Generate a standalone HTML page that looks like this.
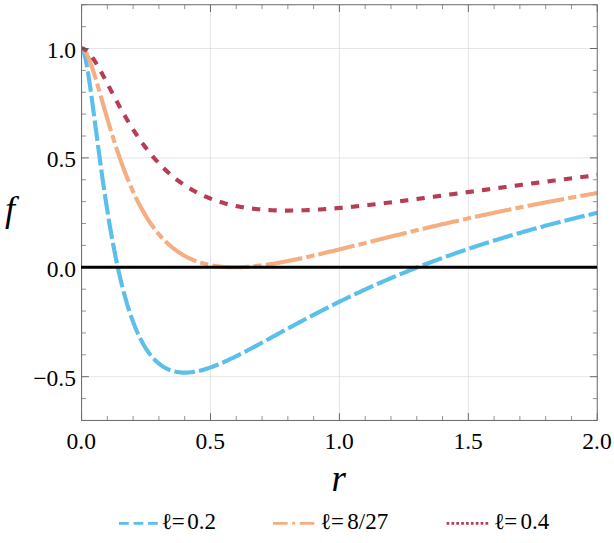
<!DOCTYPE html>
<html lang="en"><head><meta charset="utf-8"><title>f(r) for different values of l</title>
<style>
html,body{margin:0;padding:0;background:#fff;}
body{width:614px;height:543px;position:relative;overflow:hidden;font-family:"Liberation Serif",serif;color:#000;}
svg{display:block;}
</style></head><body>
<svg width="614" height="543" viewBox="0 0 614 543" style="position:absolute;left:0;top:0" role="img" aria-label="Plot of f versus r for l=0.2, l=8/27 and l=0.4">
<defs><clipPath id="c"><rect x="81.55" y="4.74" width="515.70" height="415.72"/></clipPath></defs>
<path d="M210.48,4.74V420.46M339.40,4.74V420.46M468.33,4.74V420.46M81.55,376.70H597.25M81.55,157.90H597.25M81.55,48.50H597.25" stroke="#dadada" stroke-width="0.7" fill="none"/>
<g clip-path="url(#c)" fill="none" stroke-width="4.13">
<path d="M81.55,48.50 L81.68,48.51 L81.81,48.55 L81.94,48.62 L82.07,48.71 L82.20,48.83 L82.33,48.98 L82.46,49.14 L82.59,49.33 L82.72,49.55 L82.85,49.78 L82.98,50.04 L83.10,50.32 L83.23,50.62 L83.36,50.94 L83.49,51.28 L83.62,51.64 L83.75,52.02 L83.88,52.42 L84.01,52.84 L84.14,53.27 L84.27,53.72 L84.40,54.19 L84.53,54.67 L84.66,55.17 L84.79,55.69 L84.92,56.22 L85.05,56.77 L85.18,57.33 L85.31,57.91 L85.44,58.50 L85.57,59.10 L85.70,59.72 L85.83,60.34 L85.96,60.99 L86.09,61.64 L86.21,62.31 L86.34,62.98 L86.47,63.67 L86.60,64.37 L86.73,65.08 L86.86,65.80 L86.99,66.53 L87.12,67.27 L87.25,68.02 L87.38,68.78 L87.51,69.55 L87.64,70.33 L87.77,71.12 L87.90,71.91 L88.03,72.71 L88.16,73.52 L88.29,74.34 L88.42,75.17 L88.55,76.00 L88.68,76.84 L88.81,77.68 L88.94,78.54 L89.07,79.40 L89.19,80.26 L89.32,81.13 L89.45,82.01 L89.58,82.89 L89.71,83.78 L89.84,84.67 L89.97,85.57 L90.10,86.47 L90.23,87.38 L90.36,88.29 L90.49,89.21 L90.62,90.13 L90.75,91.05 L90.88,91.98 L91.01,92.91 L91.14,93.85 L91.27,94.79 L91.40,95.73 L91.53,96.68 L91.66,97.62 L91.79,98.58 L91.92,99.53 L92.05,100.49 L92.17,101.45 L92.30,102.41 L92.43,103.37 L92.56,104.34 L92.69,105.31 L92.82,106.28 L92.95,107.25 L93.08,108.22 L93.21,109.20 L93.34,110.17 L93.47,111.15 L93.60,112.13 L93.73,113.11 L93.86,114.09 L93.99,115.07 L94.12,116.06 L94.25,117.04 L94.38,118.02 L94.51,119.01 L94.64,119.99 L94.77,120.98 L94.90,121.97 L95.03,122.95 L95.16,123.94 L95.28,124.93 L95.41,125.91 L95.54,126.90 L95.67,127.89 L95.80,128.88 L95.93,129.86 L96.06,130.85 L96.19,131.83 L96.32,132.82 L96.45,133.80 L96.58,134.79 L96.71,135.77 L96.84,136.76 L96.97,137.74 L97.10,138.72 L97.23,139.70 L97.36,140.68 L97.49,141.66 L97.62,142.64 L97.75,143.61 L97.88,144.59 L98.01,145.56 L98.14,146.54 L98.26,147.51 L98.39,148.48 L98.52,149.45 L98.65,150.42 L98.78,151.38 L98.91,152.35 L99.04,153.31 L99.17,154.28 L99.30,155.24 L99.43,156.19 L99.56,157.15 L99.69,158.11 L99.82,159.06 L99.95,160.01 L100.08,160.96 L100.21,161.91 L100.34,162.86 L100.47,163.80 L100.60,164.75 L100.73,165.69 L100.86,166.62 L100.99,167.56 L101.12,168.50 L101.25,169.43 L101.37,170.36 L101.50,171.29 L101.63,172.21 L101.76,173.14 L101.89,174.06 L102.02,174.98 L102.15,175.90 L102.28,176.81 L102.41,177.73 L102.54,178.64 L102.67,179.54 L102.80,180.45 L102.93,181.35 L103.06,182.25 L103.19,183.15 L103.32,184.05 L103.45,184.94 L103.58,185.84 L103.71,186.72 L103.84,187.61 L103.97,188.50 L104.10,189.38 L104.23,190.26 L104.35,191.13 L104.48,192.01 L104.61,192.88 L104.74,193.75 L104.87,194.61 L105.00,195.48 L105.13,196.34 L105.26,197.20 L105.39,198.05 L105.52,198.91 L105.65,199.76 L105.78,200.61 L105.91,201.45 L106.04,202.29 L106.17,203.13 L106.30,203.97 L106.43,204.81 L106.56,205.64 L106.69,206.47 L106.82,207.29 L106.95,208.12 L107.08,208.94 L107.21,209.76 L107.34,210.57 L108.32,216.67 L109.30,222.60 L110.28,228.38 L111.26,233.99 L112.24,239.45 L113.23,244.75 L114.21,249.90 L115.19,254.88 L116.17,259.72 L117.15,264.41 L118.13,268.95 L119.12,273.34 L120.10,277.60 L121.08,281.71 L122.06,285.68 L123.04,289.53 L124.03,293.24 L125.01,296.83 L125.99,300.29 L126.97,303.63 L127.95,306.85 L128.93,309.96 L129.92,312.96 L130.90,315.85 L131.88,318.63 L132.86,321.31 L133.84,323.89 L134.83,326.37 L135.81,328.76 L136.79,331.06 L137.77,333.27 L138.75,335.39 L139.73,337.43 L140.72,339.39 L141.70,341.26 L142.68,343.06 L143.66,344.79 L144.64,346.45 L145.62,348.03 L146.61,349.55 L147.59,351.00 L148.57,352.39 L149.55,353.71 L150.53,354.98 L151.52,356.18 L152.50,357.33 L153.48,358.43 L154.46,359.47 L155.44,360.46 L156.42,361.41 L157.41,362.30 L158.39,363.14 L159.37,363.95 L160.35,364.70 L161.33,365.42 L162.32,366.09 L163.30,366.72 L164.28,367.32 L165.26,367.87 L166.24,368.39 L167.22,368.88 L168.21,369.33 L169.19,369.75 L170.17,370.13 L171.15,370.48 L172.13,370.81 L173.12,371.10 L174.10,371.37 L175.08,371.61 L176.06,371.82 L177.04,372.00 L178.02,372.16 L179.01,372.30 L179.99,372.41 L180.97,372.50 L181.95,372.57 L182.93,372.62 L183.91,372.64 L184.90,372.65 L185.88,372.63 L186.86,372.60 L187.84,372.55 L188.82,372.48 L189.81,372.40 L190.79,372.29 L191.77,372.18 L192.75,372.04 L193.73,371.89 L194.71,371.73 L195.70,371.55 L196.68,371.36 L197.66,371.16 L198.64,370.94 L199.62,370.71 L200.61,370.47 L201.59,370.21 L202.57,369.95 L203.55,369.67 L204.53,369.39 L205.51,369.09 L206.50,368.79 L207.48,368.47 L208.46,368.14 L209.44,367.81 L210.42,367.47 L211.41,367.12 L212.39,366.76 L213.37,366.39 L214.35,366.02 L215.33,365.64 L216.31,365.25 L217.30,364.85 L218.28,364.45 L219.26,364.05 L220.24,363.63 L221.22,363.21 L222.20,362.79 L223.19,362.36 L224.17,361.92 L225.15,361.48 L226.13,361.03 L227.11,360.58 L228.10,360.13 L229.08,359.67 L230.06,359.20 L231.04,358.74 L232.02,358.26 L233.00,357.79 L233.99,357.31 L234.97,356.83 L235.95,356.34 L236.93,355.85 L237.91,355.36 L238.90,354.87 L239.88,354.37 L240.86,353.87 L241.84,353.37 L242.82,352.86 L243.80,352.35 L244.79,351.85 L245.77,351.33 L246.75,350.82 L247.73,350.30 L248.71,349.79 L249.70,349.27 L250.68,348.75 L251.66,348.23 L252.64,347.70 L253.62,347.18 L254.60,346.65 L255.59,346.13 L256.57,345.60 L257.55,345.07 L258.53,344.54 L259.51,344.01 L260.49,343.48 L261.48,342.94 L262.46,342.41 L263.44,341.88 L264.42,341.34 L265.40,340.81 L266.39,340.27 L267.37,339.74 L268.35,339.20 L269.33,338.66 L270.31,338.13 L271.29,337.59 L272.28,337.05 L273.26,336.52 L274.24,335.98 L275.22,335.44 L276.20,334.90 L277.19,334.37 L278.17,333.83 L279.15,333.29 L280.13,332.76 L281.11,332.22 L282.09,331.69 L283.08,331.15 L284.06,330.62 L285.04,330.08 L286.02,329.55 L287.00,329.01 L287.99,328.48 L288.97,327.95 L289.95,327.41 L290.93,326.88 L291.91,326.35 L292.89,325.82 L293.88,325.29 L294.86,324.76 L295.84,324.23 L296.82,323.71 L297.80,323.18 L298.78,322.65 L299.77,322.13 L300.75,321.60 L301.73,321.08 L302.71,320.56 L303.69,320.03 L304.68,319.51 L305.66,318.99 L306.64,318.47 L307.62,317.95 L308.60,317.44 L309.58,316.92 L310.57,316.40 L311.55,315.89 L312.53,315.37 L313.51,314.86 L314.49,314.35 L315.48,313.84 L316.46,313.33 L317.44,312.82 L318.42,312.31 L319.40,311.81 L320.38,311.30 L321.37,310.80 L322.35,310.29 L323.33,309.79 L324.31,309.29 L325.29,308.79 L326.27,308.29 L327.26,307.80 L328.24,307.30 L329.22,306.80 L330.20,306.31 L331.18,305.82 L332.17,305.33 L333.15,304.84 L334.13,304.35 L335.11,303.86 L336.09,303.37 L337.07,302.89 L338.06,302.40 L339.04,301.92 L340.02,301.44 L341.00,300.96 L341.98,300.48 L342.97,300.00 L343.95,299.52 L344.93,299.05 L345.91,298.57 L346.89,298.10 L347.87,297.63 L348.86,297.15 L349.84,296.68 L350.82,296.22 L351.80,295.75 L352.78,295.28 L353.77,294.82 L354.75,294.36 L355.73,293.89 L356.71,293.43 L357.69,292.97 L358.67,292.52 L359.66,292.06 L360.64,291.60 L361.62,291.15 L362.60,290.70 L363.58,290.24 L364.56,289.79 L365.55,289.34 L366.53,288.90 L367.51,288.45 L368.49,288.00 L369.47,287.56 L370.46,287.12 L371.44,286.67 L372.42,286.23 L373.40,285.79 L374.38,285.36 L375.36,284.92 L376.35,284.48 L377.33,284.05 L378.31,283.62 L379.29,283.18 L380.27,282.75 L381.26,282.32 L382.24,281.90 L383.22,281.47 L384.20,281.04 L385.18,280.62 L386.16,280.20 L387.15,279.78 L388.13,279.35 L389.11,278.94 L390.09,278.52 L391.07,278.10 L392.06,277.68 L393.04,277.27 L394.02,276.86 L395.00,276.45 L395.98,276.03 L396.96,275.62 L397.95,275.22 L398.93,274.81 L399.91,274.40 L400.89,274.00 L401.87,273.60 L402.85,273.19 L403.84,272.79 L404.82,272.39 L405.80,271.99 L406.78,271.60 L407.76,271.20 L408.75,270.80 L409.73,270.41 L410.71,270.02 L411.69,269.63 L412.67,269.24 L413.65,268.85 L414.64,268.46 L415.62,268.07 L416.60,267.68 L417.58,267.30 L418.56,266.92 L419.55,266.53 L420.53,266.15 L421.51,265.77 L422.49,265.39 L423.47,265.02 L424.45,264.64 L425.44,264.26 L426.42,263.89 L427.40,263.52 L428.38,263.14 L429.36,262.77 L430.35,262.40 L431.33,262.03 L432.31,261.67 L433.29,261.30 L434.27,260.93 L435.25,260.57 L436.24,260.21 L437.22,259.84 L438.20,259.48 L439.18,259.12 L440.16,258.76 L441.14,258.41 L442.13,258.05 L443.11,257.69 L444.09,257.34 L445.07,256.98 L446.05,256.63 L447.04,256.28 L448.02,255.93 L449.00,255.58 L449.98,255.23 L450.96,254.88 L451.94,254.54 L452.93,254.19 L453.91,253.85 L454.89,253.50 L455.87,253.16 L456.85,252.82 L457.84,252.48 L458.82,252.14 L459.80,251.80 L460.78,251.47 L461.76,251.13 L462.74,250.79 L463.73,250.46 L464.71,250.13 L465.69,249.79 L466.67,249.46 L467.65,249.13 L468.64,248.80 L469.62,248.47 L470.60,248.15 L471.58,247.82 L472.56,247.50 L473.54,247.17 L474.53,246.85 L475.51,246.52 L476.49,246.20 L477.47,245.88 L478.45,245.56 L479.43,245.24 L480.42,244.93 L481.40,244.61 L482.38,244.29 L483.36,243.98 L484.34,243.66 L485.33,243.35 L486.31,243.04 L487.29,242.73 L488.27,242.42 L489.25,242.11 L490.23,241.80 L491.22,241.49 L492.20,241.18 L493.18,240.88 L494.16,240.57 L495.14,240.27 L496.13,239.96 L497.11,239.66 L498.09,239.36 L499.07,239.06 L500.05,238.76 L501.03,238.46 L502.02,238.16 L503.00,237.86 L503.98,237.57 L504.96,237.27 L505.94,236.98 L506.92,236.68 L507.91,236.39 L508.89,236.10 L509.87,235.81 L510.85,235.52 L511.83,235.23 L512.82,234.94 L513.80,234.65 L514.78,234.36 L515.76,234.08 L516.74,233.79 L517.72,233.51 L518.71,233.22 L519.69,232.94 L520.67,232.66 L521.65,232.38 L522.63,232.10 L523.62,231.82 L524.60,231.54 L525.58,231.26 L526.56,230.98 L527.54,230.70 L528.52,230.43 L529.51,230.15 L530.49,229.88 L531.47,229.60 L532.45,229.33 L533.43,229.06 L534.42,228.79 L535.40,228.52 L536.38,228.25 L537.36,227.98 L538.34,227.71 L539.32,227.44 L540.31,227.18 L541.29,226.91 L542.27,226.64 L543.25,226.38 L544.23,226.12 L545.21,225.85 L546.20,225.59 L547.18,225.33 L548.16,225.07 L549.14,224.81 L550.12,224.55 L551.11,224.29 L552.09,224.03 L553.07,223.77 L554.05,223.52 L555.03,223.26 L556.01,223.01 L557.00,222.75 L557.98,222.50 L558.96,222.24 L559.94,221.99 L560.92,221.74 L561.91,221.49 L562.89,221.24 L563.87,220.99 L564.85,220.74 L565.83,220.49 L566.81,220.24 L567.80,220.00 L568.78,219.75 L569.76,219.50 L570.74,219.26 L571.72,219.02 L572.71,218.77 L573.69,218.53 L574.67,218.29 L575.65,218.04 L576.63,217.80 L577.61,217.56 L578.60,217.32 L579.58,217.08 L580.56,216.85 L581.54,216.61 L582.52,216.37 L583.50,216.13 L584.49,215.90 L585.47,215.66 L586.45,215.43 L587.43,215.19 L588.41,214.96 L589.40,214.73 L590.38,214.50 L591.36,214.26 L592.34,214.03 L593.32,213.80 L594.30,213.57 L595.29,213.34 L596.27,213.12 L597.25,212.89" stroke="#5abfea" stroke-dasharray="20.65 4.13" stroke-dashoffset="0.7"/>
<path d="M81.55,48.50 L81.68,48.50 L81.81,48.52 L81.94,48.54 L82.07,48.57 L82.20,48.60 L82.33,48.65 L82.46,48.70 L82.59,48.76 L82.72,48.83 L82.85,48.90 L82.98,48.99 L83.10,49.08 L83.23,49.17 L83.36,49.28 L83.49,49.39 L83.62,49.50 L83.75,49.63 L83.88,49.76 L84.01,49.89 L84.14,50.04 L84.27,50.19 L84.40,50.34 L84.53,50.50 L84.66,50.67 L84.79,50.84 L84.92,51.02 L85.05,51.21 L85.18,51.40 L85.31,51.59 L85.44,51.79 L85.57,52.00 L85.70,52.21 L85.83,52.43 L85.96,52.65 L86.09,52.88 L86.21,53.11 L86.34,53.35 L86.47,53.59 L86.60,53.83 L86.73,54.08 L86.86,54.34 L86.99,54.60 L87.12,54.86 L87.25,55.13 L87.38,55.40 L87.51,55.68 L87.64,55.96 L87.77,56.24 L87.90,56.53 L88.03,56.82 L88.16,57.11 L88.29,57.41 L88.42,57.72 L88.55,58.02 L88.68,58.33 L88.81,58.65 L88.94,58.96 L89.07,59.28 L89.19,59.61 L89.32,59.93 L89.45,60.26 L89.58,60.60 L89.71,60.93 L89.84,61.27 L89.97,61.62 L90.10,61.96 L90.23,62.31 L90.36,62.66 L90.49,63.01 L90.62,63.37 L90.75,63.73 L90.88,64.09 L91.01,64.45 L91.14,64.82 L91.27,65.18 L91.40,65.56 L91.53,65.93 L91.66,66.30 L91.79,66.68 L91.92,67.06 L92.05,67.44 L92.17,67.83 L92.30,68.21 L92.43,68.60 L92.56,68.99 L92.69,69.38 L92.82,69.78 L92.95,70.17 L93.08,70.57 L93.21,70.97 L93.34,71.37 L93.47,71.77 L93.60,72.18 L93.73,72.58 L93.86,72.99 L93.99,73.40 L94.12,73.81 L94.25,74.22 L94.38,74.64 L94.51,75.05 L94.64,75.47 L94.77,75.88 L94.90,76.30 L95.03,76.72 L95.16,77.15 L95.28,77.57 L95.41,77.99 L95.54,78.42 L95.67,78.84 L95.80,79.27 L95.93,79.70 L96.06,80.13 L96.19,80.56 L96.32,80.99 L96.45,81.42 L96.58,81.85 L96.71,82.29 L96.84,82.72 L96.97,83.16 L97.10,83.59 L97.23,84.03 L97.36,84.47 L97.49,84.90 L97.62,85.34 L97.75,85.78 L97.88,86.22 L98.01,86.66 L98.14,87.11 L98.26,87.55 L98.39,87.99 L98.52,88.43 L98.65,88.88 L98.78,89.32 L98.91,89.77 L99.04,90.21 L99.17,90.66 L99.30,91.10 L99.43,91.55 L99.56,92.00 L99.69,92.44 L99.82,92.89 L99.95,93.34 L100.08,93.78 L100.21,94.23 L100.34,94.68 L100.47,95.13 L100.60,95.58 L100.73,96.03 L100.86,96.48 L100.99,96.93 L101.12,97.37 L101.25,97.82 L101.37,98.27 L101.50,98.72 L101.63,99.17 L101.76,99.62 L101.89,100.07 L102.02,100.52 L102.15,100.97 L102.28,101.42 L102.41,101.87 L102.54,102.32 L102.67,102.77 L102.80,103.22 L102.93,103.67 L103.06,104.12 L103.19,104.57 L103.32,105.02 L103.45,105.47 L103.58,105.91 L103.71,106.36 L103.84,106.81 L103.97,107.26 L104.10,107.71 L104.23,108.16 L104.35,108.60 L104.48,109.05 L104.61,109.50 L104.74,109.94 L104.87,110.39 L105.00,110.84 L105.13,111.28 L105.26,111.73 L105.39,112.17 L105.52,112.62 L105.65,113.06 L105.78,113.51 L105.91,113.95 L106.04,114.40 L106.17,114.84 L106.30,115.28 L106.43,115.72 L106.56,116.17 L106.69,116.61 L106.82,117.05 L106.95,117.49 L107.08,117.93 L107.21,118.37 L107.34,118.81 L108.32,122.12 L109.30,125.41 L110.28,128.66 L111.26,131.87 L112.24,135.05 L113.23,138.18 L114.21,141.28 L115.19,144.33 L116.17,147.33 L117.15,150.30 L118.13,153.21 L119.12,156.08 L120.10,158.89 L121.08,161.66 L122.06,164.39 L123.04,167.06 L124.03,169.68 L125.01,172.26 L125.99,174.79 L126.97,177.26 L127.95,179.69 L128.93,182.07 L129.92,184.41 L130.90,186.69 L131.88,188.93 L132.86,191.12 L133.84,193.27 L134.83,195.37 L135.81,197.42 L136.79,199.43 L137.77,201.40 L138.75,203.32 L139.73,205.20 L140.72,207.04 L141.70,208.84 L142.68,210.59 L143.66,212.31 L144.64,213.98 L145.62,215.62 L146.61,217.22 L147.59,218.78 L148.57,220.30 L149.55,221.79 L150.53,223.24 L151.52,224.66 L152.50,226.04 L153.48,227.39 L154.46,228.70 L155.44,229.98 L156.42,231.23 L157.41,232.45 L158.39,233.64 L159.37,234.80 L160.35,235.92 L161.33,237.02 L162.32,238.09 L163.30,239.14 L164.28,240.15 L165.26,241.14 L166.24,242.10 L167.22,243.04 L168.21,243.95 L169.19,244.83 L170.17,245.70 L171.15,246.53 L172.13,247.35 L173.12,248.14 L174.10,248.91 L175.08,249.66 L176.06,250.38 L177.04,251.09 L178.02,251.77 L179.01,252.44 L179.99,253.08 L180.97,253.70 L181.95,254.31 L182.93,254.90 L183.91,255.47 L184.90,256.02 L185.88,256.55 L186.86,257.07 L187.84,257.57 L188.82,258.05 L189.81,258.52 L190.79,258.97 L191.77,259.41 L192.75,259.83 L193.73,260.23 L194.71,260.63 L195.70,261.00 L196.68,261.37 L197.66,261.72 L198.64,262.05 L199.62,262.38 L200.61,262.69 L201.59,262.99 L202.57,263.28 L203.55,263.55 L204.53,263.81 L205.51,264.06 L206.50,264.30 L207.48,264.53 L208.46,264.75 L209.44,264.96 L210.42,265.16 L211.41,265.34 L212.39,265.52 L213.37,265.69 L214.35,265.85 L215.33,266.00 L216.31,266.14 L217.30,266.27 L218.28,266.39 L219.26,266.50 L220.24,266.61 L221.22,266.71 L222.20,266.80 L223.19,266.88 L224.17,266.95 L225.15,267.02 L226.13,267.08 L227.11,267.13 L228.10,267.17 L229.08,267.21 L230.06,267.24 L231.04,267.26 L232.02,267.28 L233.00,267.29 L233.99,267.30 L234.97,267.30 L235.95,267.29 L236.93,267.28 L237.91,267.26 L238.90,267.24 L239.88,267.21 L240.86,267.17 L241.84,267.13 L242.82,267.09 L243.80,267.04 L244.79,266.98 L245.77,266.92 L246.75,266.86 L247.73,266.79 L248.71,266.72 L249.70,266.64 L250.68,266.56 L251.66,266.47 L252.64,266.38 L253.62,266.29 L254.60,266.19 L255.59,266.09 L256.57,265.98 L257.55,265.87 L258.53,265.76 L259.51,265.64 L260.49,265.52 L261.48,265.40 L262.46,265.27 L263.44,265.14 L264.42,265.01 L265.40,264.87 L266.39,264.73 L267.37,264.59 L268.35,264.44 L269.33,264.30 L270.31,264.15 L271.29,263.99 L272.28,263.84 L273.26,263.68 L274.24,263.52 L275.22,263.35 L276.20,263.19 L277.19,263.02 L278.17,262.85 L279.15,262.67 L280.13,262.50 L281.11,262.32 L282.09,262.14 L283.08,261.96 L284.06,261.78 L285.04,261.59 L286.02,261.41 L287.00,261.22 L287.99,261.03 L288.97,260.83 L289.95,260.64 L290.93,260.44 L291.91,260.25 L292.89,260.05 L293.88,259.85 L294.86,259.64 L295.84,259.44 L296.82,259.23 L297.80,259.03 L298.78,258.82 L299.77,258.61 L300.75,258.40 L301.73,258.19 L302.71,257.98 L303.69,257.76 L304.68,257.55 L305.66,257.33 L306.64,257.11 L307.62,256.89 L308.60,256.67 L309.58,256.45 L310.57,256.23 L311.55,256.01 L312.53,255.78 L313.51,255.56 L314.49,255.33 L315.48,255.11 L316.46,254.88 L317.44,254.65 L318.42,254.42 L319.40,254.19 L320.38,253.96 L321.37,253.73 L322.35,253.50 L323.33,253.27 L324.31,253.04 L325.29,252.80 L326.27,252.57 L327.26,252.34 L328.24,252.10 L329.22,251.86 L330.20,251.63 L331.18,251.39 L332.17,251.15 L333.15,250.92 L334.13,250.68 L335.11,250.44 L336.09,250.20 L337.07,249.96 L338.06,249.72 L339.04,249.48 L340.02,249.24 L341.00,249.00 L341.98,248.76 L342.97,248.52 L343.95,248.28 L344.93,248.03 L345.91,247.79 L346.89,247.55 L347.87,247.31 L348.86,247.06 L349.84,246.82 L350.82,246.58 L351.80,246.33 L352.78,246.09 L353.77,245.85 L354.75,245.60 L355.73,245.36 L356.71,245.11 L357.69,244.87 L358.67,244.63 L359.66,244.38 L360.64,244.14 L361.62,243.89 L362.60,243.65 L363.58,243.40 L364.56,243.16 L365.55,242.91 L366.53,242.67 L367.51,242.43 L368.49,242.18 L369.47,241.94 L370.46,241.69 L371.44,241.45 L372.42,241.20 L373.40,240.96 L374.38,240.71 L375.36,240.47 L376.35,240.22 L377.33,239.98 L378.31,239.74 L379.29,239.49 L380.27,239.25 L381.26,239.00 L382.24,238.76 L383.22,238.52 L384.20,238.27 L385.18,238.03 L386.16,237.79 L387.15,237.54 L388.13,237.30 L389.11,237.06 L390.09,236.82 L391.07,236.57 L392.06,236.33 L393.04,236.09 L394.02,235.85 L395.00,235.61 L395.98,235.36 L396.96,235.12 L397.95,234.88 L398.93,234.64 L399.91,234.40 L400.89,234.16 L401.87,233.92 L402.85,233.68 L403.84,233.44 L404.82,233.20 L405.80,232.96 L406.78,232.72 L407.76,232.49 L408.75,232.25 L409.73,232.01 L410.71,231.77 L411.69,231.53 L412.67,231.30 L413.65,231.06 L414.64,230.82 L415.62,230.59 L416.60,230.35 L417.58,230.11 L418.56,229.88 L419.55,229.64 L420.53,229.41 L421.51,229.17 L422.49,228.94 L423.47,228.70 L424.45,228.47 L425.44,228.24 L426.42,228.00 L427.40,227.77 L428.38,227.54 L429.36,227.31 L430.35,227.07 L431.33,226.84 L432.31,226.61 L433.29,226.38 L434.27,226.15 L435.25,225.92 L436.24,225.69 L437.22,225.46 L438.20,225.23 L439.18,225.00 L440.16,224.77 L441.14,224.55 L442.13,224.32 L443.11,224.09 L444.09,223.86 L445.07,223.64 L446.05,223.41 L447.04,223.18 L448.02,222.96 L449.00,222.73 L449.98,222.51 L450.96,222.28 L451.94,222.06 L452.93,221.84 L453.91,221.61 L454.89,221.39 L455.87,221.17 L456.85,220.94 L457.84,220.72 L458.82,220.50 L459.80,220.28 L460.78,220.06 L461.76,219.84 L462.74,219.62 L463.73,219.40 L464.71,219.18 L465.69,218.96 L466.67,218.74 L467.65,218.52 L468.64,218.30 L469.62,218.09 L470.60,217.87 L471.58,217.65 L472.56,217.44 L473.54,217.22 L474.53,217.01 L475.51,216.79 L476.49,216.58 L477.47,216.36 L478.45,216.15 L479.43,215.93 L480.42,215.72 L481.40,215.51 L482.38,215.29 L483.36,215.08 L484.34,214.87 L485.33,214.66 L486.31,214.45 L487.29,214.24 L488.27,214.03 L489.25,213.82 L490.23,213.61 L491.22,213.40 L492.20,213.19 L493.18,212.98 L494.16,212.77 L495.14,212.57 L496.13,212.36 L497.11,212.15 L498.09,211.95 L499.07,211.74 L500.05,211.54 L501.03,211.33 L502.02,211.13 L503.00,210.92 L503.98,210.72 L504.96,210.51 L505.94,210.31 L506.92,210.11 L507.91,209.91 L508.89,209.70 L509.87,209.50 L510.85,209.30 L511.83,209.10 L512.82,208.90 L513.80,208.70 L514.78,208.50 L515.76,208.30 L516.74,208.10 L517.72,207.90 L518.71,207.70 L519.69,207.51 L520.67,207.31 L521.65,207.11 L522.63,206.92 L523.62,206.72 L524.60,206.52 L525.58,206.33 L526.56,206.13 L527.54,205.94 L528.52,205.74 L529.51,205.55 L530.49,205.36 L531.47,205.16 L532.45,204.97 L533.43,204.78 L534.42,204.59 L535.40,204.39 L536.38,204.20 L537.36,204.01 L538.34,203.82 L539.32,203.63 L540.31,203.44 L541.29,203.25 L542.27,203.06 L543.25,202.87 L544.23,202.69 L545.21,202.50 L546.20,202.31 L547.18,202.12 L548.16,201.94 L549.14,201.75 L550.12,201.56 L551.11,201.38 L552.09,201.19 L553.07,201.01 L554.05,200.82 L555.03,200.64 L556.01,200.46 L557.00,200.27 L557.98,200.09 L558.96,199.91 L559.94,199.72 L560.92,199.54 L561.91,199.36 L562.89,199.18 L563.87,199.00 L564.85,198.82 L565.83,198.64 L566.81,198.46 L567.80,198.28 L568.78,198.10 L569.76,197.92 L570.74,197.74 L571.72,197.56 L572.71,197.39 L573.69,197.21 L574.67,197.03 L575.65,196.86 L576.63,196.68 L577.61,196.50 L578.60,196.33 L579.58,196.15 L580.56,195.98 L581.54,195.80 L582.52,195.63 L583.50,195.46 L584.49,195.28 L585.47,195.11 L586.45,194.94 L587.43,194.77 L588.41,194.59 L589.40,194.42 L590.38,194.25 L591.36,194.08 L592.34,193.91 L593.32,193.74 L594.30,193.57 L595.29,193.40 L596.27,193.23 L597.25,193.06" stroke="#f4ae81" stroke-dasharray="37.17 4.13 8.26 4.13" stroke-dashoffset="2.06"/>
<path d="M81.55,48.50 L81.68,48.50 L81.81,48.51 L81.94,48.52 L82.07,48.53 L82.20,48.54 L82.33,48.56 L82.46,48.58 L82.59,48.61 L82.72,48.64 L82.85,48.67 L82.98,48.70 L83.10,48.74 L83.23,48.78 L83.36,48.82 L83.49,48.87 L83.62,48.92 L83.75,48.97 L83.88,49.02 L84.01,49.08 L84.14,49.14 L84.27,49.20 L84.40,49.27 L84.53,49.34 L84.66,49.41 L84.79,49.48 L84.92,49.56 L85.05,49.64 L85.18,49.72 L85.31,49.80 L85.44,49.89 L85.57,49.98 L85.70,50.07 L85.83,50.16 L85.96,50.26 L86.09,50.36 L86.21,50.46 L86.34,50.56 L86.47,50.67 L86.60,50.78 L86.73,50.88 L86.86,51.00 L86.99,51.11 L87.12,51.23 L87.25,51.34 L87.38,51.46 L87.51,51.59 L87.64,51.71 L87.77,51.84 L87.90,51.97 L88.03,52.10 L88.16,52.23 L88.29,52.36 L88.42,52.50 L88.55,52.63 L88.68,52.77 L88.81,52.92 L88.94,53.06 L89.07,53.20 L89.19,53.35 L89.32,53.50 L89.45,53.65 L89.58,53.80 L89.71,53.95 L89.84,54.11 L89.97,54.26 L90.10,54.42 L90.23,54.58 L90.36,54.74 L90.49,54.91 L90.62,55.07 L90.75,55.24 L90.88,55.40 L91.01,55.57 L91.14,55.74 L91.27,55.91 L91.40,56.09 L91.53,56.26 L91.66,56.44 L91.79,56.61 L91.92,56.79 L92.05,56.97 L92.17,57.15 L92.30,57.33 L92.43,57.52 L92.56,57.70 L92.69,57.89 L92.82,58.07 L92.95,58.26 L93.08,58.45 L93.21,58.64 L93.34,58.83 L93.47,59.03 L93.60,59.22 L93.73,59.41 L93.86,59.61 L93.99,59.81 L94.12,60.01 L94.25,60.20 L94.38,60.41 L94.51,60.61 L94.64,60.81 L94.77,61.01 L94.90,61.22 L95.03,61.42 L95.16,61.63 L95.28,61.83 L95.41,62.04 L95.54,62.25 L95.67,62.46 L95.80,62.67 L95.93,62.88 L96.06,63.09 L96.19,63.30 L96.32,63.52 L96.45,63.73 L96.58,63.95 L96.71,64.16 L96.84,64.38 L96.97,64.60 L97.10,64.82 L97.23,65.03 L97.36,65.25 L97.49,65.47 L97.62,65.70 L97.75,65.92 L97.88,66.14 L98.01,66.36 L98.14,66.59 L98.26,66.81 L98.39,67.03 L98.52,67.26 L98.65,67.49 L98.78,67.71 L98.91,67.94 L99.04,68.17 L99.17,68.40 L99.30,68.62 L99.43,68.85 L99.56,69.08 L99.69,69.31 L99.82,69.55 L99.95,69.78 L100.08,70.01 L100.21,70.24 L100.34,70.47 L100.47,70.71 L100.60,70.94 L100.73,71.17 L100.86,71.41 L100.99,71.64 L101.12,71.88 L101.25,72.12 L101.37,72.35 L101.50,72.59 L101.63,72.82 L101.76,73.06 L101.89,73.30 L102.02,73.54 L102.15,73.78 L102.28,74.02 L102.41,74.25 L102.54,74.49 L102.67,74.73 L102.80,74.97 L102.93,75.21 L103.06,75.45 L103.19,75.69 L103.32,75.94 L103.45,76.18 L103.58,76.42 L103.71,76.66 L103.84,76.90 L103.97,77.15 L104.10,77.39 L104.23,77.63 L104.35,77.87 L104.48,78.12 L104.61,78.36 L104.74,78.60 L104.87,78.85 L105.00,79.09 L105.13,79.34 L105.26,79.58 L105.39,79.82 L105.52,80.07 L105.65,80.31 L105.78,80.56 L105.91,80.80 L106.04,81.05 L106.17,81.29 L106.30,81.54 L106.43,81.79 L106.56,82.03 L106.69,82.28 L106.82,82.52 L106.95,82.77 L107.08,83.02 L107.21,83.26 L107.34,83.51 L108.32,85.38 L109.30,87.25 L110.28,89.11 L111.26,90.98 L112.24,92.85 L113.23,94.70 L114.21,96.55 L115.19,98.40 L116.17,100.23 L117.15,102.05 L118.13,103.86 L119.12,105.66 L120.10,107.45 L121.08,109.22 L122.06,110.97 L123.04,112.71 L124.03,114.43 L125.01,116.14 L125.99,117.83 L126.97,119.50 L127.95,121.15 L128.93,122.78 L129.92,124.40 L130.90,126.00 L131.88,127.57 L132.86,129.13 L133.84,130.67 L134.83,132.19 L135.81,133.69 L136.79,135.16 L137.77,136.62 L138.75,138.06 L139.73,139.48 L140.72,140.88 L141.70,142.26 L142.68,143.62 L143.66,144.96 L144.64,146.28 L145.62,147.58 L146.61,148.86 L147.59,150.13 L148.57,151.37 L149.55,152.59 L150.53,153.80 L151.52,154.98 L152.50,156.15 L153.48,157.30 L154.46,158.43 L155.44,159.54 L156.42,160.64 L157.41,161.71 L158.39,162.77 L159.37,163.81 L160.35,164.84 L161.33,165.84 L162.32,166.83 L163.30,167.81 L164.28,168.76 L165.26,169.71 L166.24,170.63 L167.22,171.54 L168.21,172.43 L169.19,173.31 L170.17,174.17 L171.15,175.02 L172.13,175.85 L173.12,176.67 L174.10,177.47 L175.08,178.26 L176.06,179.03 L177.04,179.79 L178.02,180.54 L179.01,181.27 L179.99,181.99 L180.97,182.69 L181.95,183.39 L182.93,184.07 L183.91,184.73 L184.90,185.39 L185.88,186.03 L186.86,186.66 L187.84,187.28 L188.82,187.88 L189.81,188.48 L190.79,189.06 L191.77,189.63 L192.75,190.19 L193.73,190.74 L194.71,191.28 L195.70,191.81 L196.68,192.33 L197.66,192.83 L198.64,193.33 L199.62,193.82 L200.61,194.29 L201.59,194.76 L202.57,195.22 L203.55,195.67 L204.53,196.10 L205.51,196.53 L206.50,196.95 L207.48,197.37 L208.46,197.77 L209.44,198.16 L210.42,198.55 L211.41,198.93 L212.39,199.29 L213.37,199.66 L214.35,200.01 L215.33,200.35 L216.31,200.69 L217.30,201.02 L218.28,201.34 L219.26,201.66 L220.24,201.96 L221.22,202.26 L222.20,202.56 L223.19,202.84 L224.17,203.12 L225.15,203.39 L226.13,203.66 L227.11,203.92 L228.10,204.17 L229.08,204.42 L230.06,204.66 L231.04,204.89 L232.02,205.12 L233.00,205.34 L233.99,205.56 L234.97,205.77 L235.95,205.97 L236.93,206.17 L237.91,206.36 L238.90,206.55 L239.88,206.74 L240.86,206.91 L241.84,207.08 L242.82,207.25 L243.80,207.41 L244.79,207.57 L245.77,207.72 L246.75,207.87 L247.73,208.01 L248.71,208.15 L249.70,208.28 L250.68,208.41 L251.66,208.54 L252.64,208.66 L253.62,208.77 L254.60,208.89 L255.59,208.99 L256.57,209.10 L257.55,209.20 L258.53,209.29 L259.51,209.38 L260.49,209.47 L261.48,209.55 L262.46,209.63 L263.44,209.71 L264.42,209.78 L265.40,209.85 L266.39,209.92 L267.37,209.98 L268.35,210.04 L269.33,210.09 L270.31,210.15 L271.29,210.19 L272.28,210.24 L273.26,210.28 L274.24,210.32 L275.22,210.36 L276.20,210.39 L277.19,210.42 L278.17,210.45 L279.15,210.47 L280.13,210.50 L281.11,210.51 L282.09,210.53 L283.08,210.54 L284.06,210.56 L285.04,210.56 L286.02,210.57 L287.00,210.57 L287.99,210.57 L288.97,210.57 L289.95,210.57 L290.93,210.56 L291.91,210.55 L292.89,210.54 L293.88,210.53 L294.86,210.51 L295.84,210.50 L296.82,210.48 L297.80,210.45 L298.78,210.43 L299.77,210.40 L300.75,210.38 L301.73,210.35 L302.71,210.31 L303.69,210.28 L304.68,210.24 L305.66,210.21 L306.64,210.17 L307.62,210.13 L308.60,210.08 L309.58,210.04 L310.57,209.99 L311.55,209.94 L312.53,209.89 L313.51,209.84 L314.49,209.79 L315.48,209.73 L316.46,209.68 L317.44,209.62 L318.42,209.56 L319.40,209.50 L320.38,209.44 L321.37,209.37 L322.35,209.31 L323.33,209.24 L324.31,209.17 L325.29,209.11 L326.27,209.03 L327.26,208.96 L328.24,208.89 L329.22,208.82 L330.20,208.74 L331.18,208.66 L332.17,208.59 L333.15,208.51 L334.13,208.43 L335.11,208.34 L336.09,208.26 L337.07,208.18 L338.06,208.09 L339.04,208.01 L340.02,207.92 L341.00,207.83 L341.98,207.74 L342.97,207.65 L343.95,207.56 L344.93,207.47 L345.91,207.38 L346.89,207.28 L347.87,207.19 L348.86,207.09 L349.84,207.00 L350.82,206.90 L351.80,206.80 L352.78,206.70 L353.77,206.60 L354.75,206.50 L355.73,206.40 L356.71,206.30 L357.69,206.20 L358.67,206.09 L359.66,205.99 L360.64,205.88 L361.62,205.78 L362.60,205.67 L363.58,205.56 L364.56,205.46 L365.55,205.35 L366.53,205.24 L367.51,205.13 L368.49,205.02 L369.47,204.91 L370.46,204.80 L371.44,204.68 L372.42,204.57 L373.40,204.46 L374.38,204.34 L375.36,204.23 L376.35,204.11 L377.33,204.00 L378.31,203.88 L379.29,203.77 L380.27,203.65 L381.26,203.53 L382.24,203.41 L383.22,203.29 L384.20,203.18 L385.18,203.06 L386.16,202.94 L387.15,202.82 L388.13,202.70 L389.11,202.57 L390.09,202.45 L391.07,202.33 L392.06,202.21 L393.04,202.09 L394.02,201.96 L395.00,201.84 L395.98,201.72 L396.96,201.59 L397.95,201.47 L398.93,201.34 L399.91,201.22 L400.89,201.09 L401.87,200.97 L402.85,200.84 L403.84,200.71 L404.82,200.59 L405.80,200.46 L406.78,200.33 L407.76,200.21 L408.75,200.08 L409.73,199.95 L410.71,199.82 L411.69,199.69 L412.67,199.57 L413.65,199.44 L414.64,199.31 L415.62,199.18 L416.60,199.05 L417.58,198.92 L418.56,198.79 L419.55,198.66 L420.53,198.53 L421.51,198.40 L422.49,198.27 L423.47,198.14 L424.45,198.01 L425.44,197.87 L426.42,197.74 L427.40,197.61 L428.38,197.48 L429.36,197.35 L430.35,197.22 L431.33,197.08 L432.31,196.95 L433.29,196.82 L434.27,196.69 L435.25,196.55 L436.24,196.42 L437.22,196.29 L438.20,196.16 L439.18,196.02 L440.16,195.89 L441.14,195.76 L442.13,195.62 L443.11,195.49 L444.09,195.36 L445.07,195.22 L446.05,195.09 L447.04,194.96 L448.02,194.82 L449.00,194.69 L449.98,194.55 L450.96,194.42 L451.94,194.29 L452.93,194.15 L453.91,194.02 L454.89,193.88 L455.87,193.75 L456.85,193.62 L457.84,193.48 L458.82,193.35 L459.80,193.21 L460.78,193.08 L461.76,192.95 L462.74,192.81 L463.73,192.68 L464.71,192.54 L465.69,192.41 L466.67,192.27 L467.65,192.14 L468.64,192.01 L469.62,191.87 L470.60,191.74 L471.58,191.60 L472.56,191.47 L473.54,191.34 L474.53,191.20 L475.51,191.07 L476.49,190.93 L477.47,190.80 L478.45,190.66 L479.43,190.53 L480.42,190.40 L481.40,190.26 L482.38,190.13 L483.36,189.99 L484.34,189.86 L485.33,189.73 L486.31,189.59 L487.29,189.46 L488.27,189.33 L489.25,189.19 L490.23,189.06 L491.22,188.93 L492.20,188.79 L493.18,188.66 L494.16,188.52 L495.14,188.39 L496.13,188.26 L497.11,188.13 L498.09,187.99 L499.07,187.86 L500.05,187.73 L501.03,187.59 L502.02,187.46 L503.00,187.33 L503.98,187.20 L504.96,187.06 L505.94,186.93 L506.92,186.80 L507.91,186.67 L508.89,186.53 L509.87,186.40 L510.85,186.27 L511.83,186.14 L512.82,186.01 L513.80,185.87 L514.78,185.74 L515.76,185.61 L516.74,185.48 L517.72,185.35 L518.71,185.22 L519.69,185.09 L520.67,184.95 L521.65,184.82 L522.63,184.69 L523.62,184.56 L524.60,184.43 L525.58,184.30 L526.56,184.17 L527.54,184.04 L528.52,183.91 L529.51,183.78 L530.49,183.65 L531.47,183.52 L532.45,183.39 L533.43,183.26 L534.42,183.13 L535.40,183.00 L536.38,182.87 L537.36,182.74 L538.34,182.61 L539.32,182.49 L540.31,182.36 L541.29,182.23 L542.27,182.10 L543.25,181.97 L544.23,181.84 L545.21,181.71 L546.20,181.59 L547.18,181.46 L548.16,181.33 L549.14,181.20 L550.12,181.08 L551.11,180.95 L552.09,180.82 L553.07,180.69 L554.05,180.57 L555.03,180.44 L556.01,180.31 L557.00,180.19 L557.98,180.06 L558.96,179.93 L559.94,179.81 L560.92,179.68 L561.91,179.56 L562.89,179.43 L563.87,179.30 L564.85,179.18 L565.83,179.05 L566.81,178.93 L567.80,178.80 L568.78,178.68 L569.76,178.55 L570.74,178.43 L571.72,178.31 L572.71,178.18 L573.69,178.06 L574.67,177.93 L575.65,177.81 L576.63,177.68 L577.61,177.56 L578.60,177.44 L579.58,177.31 L580.56,177.19 L581.54,177.07 L582.52,176.95 L583.50,176.82 L584.49,176.70 L585.47,176.58 L586.45,176.46 L587.43,176.33 L588.41,176.21 L589.40,176.09 L590.38,175.97 L591.36,175.85 L592.34,175.72 L593.32,175.60 L594.30,175.48 L595.29,175.36 L596.27,175.24 L597.25,175.12" stroke="#b73d55" stroke-dasharray="8.26 8.26" stroke-dashoffset="2.06"/>
</g>
<path d="M107.34,420.46v-4.40M107.34,4.74v4.40M133.12,420.46v-4.40M133.12,4.74v4.40M158.91,420.46v-4.40M158.91,4.74v4.40M184.69,420.46v-4.40M184.69,4.74v4.40M236.26,420.46v-4.40M236.26,4.74v4.40M262.05,420.46v-4.40M262.05,4.74v4.40M287.83,420.46v-4.40M287.83,4.74v4.40M313.62,420.46v-4.40M313.62,4.74v4.40M365.19,420.46v-4.40M365.19,4.74v4.40M390.97,420.46v-4.40M390.97,4.74v4.40M416.76,420.46v-4.40M416.76,4.74v4.40M442.54,420.46v-4.40M442.54,4.74v4.40M494.11,420.46v-4.40M494.11,4.74v4.40M519.89,420.46v-4.40M519.89,4.74v4.40M545.68,420.46v-4.40M545.68,4.74v4.40M571.47,420.46v-4.40M571.47,4.74v4.40M81.55,420.46h4.40M597.25,420.46h-4.40M81.55,398.58h4.40M597.25,398.58h-4.40M81.55,354.82h4.40M597.25,354.82h-4.40M81.55,332.94h4.40M597.25,332.94h-4.40M81.55,311.06h4.40M597.25,311.06h-4.40M81.55,289.18h4.40M597.25,289.18h-4.40M81.55,245.42h4.40M597.25,245.42h-4.40M81.55,223.54h4.40M597.25,223.54h-4.40M81.55,201.66h4.40M597.25,201.66h-4.40M81.55,179.78h4.40M597.25,179.78h-4.40M81.55,136.02h4.40M597.25,136.02h-4.40M81.55,114.14h4.40M597.25,114.14h-4.40M81.55,92.26h4.40M597.25,92.26h-4.40M81.55,70.38h4.40M597.25,70.38h-4.40M81.55,26.62h4.40M597.25,26.62h-4.40M81.55,4.74h4.40M597.25,4.74h-4.40" stroke="#4a4a4a" stroke-width="0.6" fill="none"/>
<path d="M81.55,420.46v-7.30M81.55,4.74v7.30M210.48,420.46v-7.30M210.48,4.74v7.30M339.40,420.46v-7.30M339.40,4.74v7.30M468.33,420.46v-7.30M468.33,4.74v7.30M597.25,420.46v-7.30M597.25,4.74v7.30M81.55,376.70h7.30M597.25,376.70h-7.30M81.55,267.30h7.30M597.25,267.30h-7.30M81.55,157.90h7.30M597.25,157.90h-7.30M81.55,48.50h7.30M597.25,48.50h-7.30" stroke="#4a4a4a" stroke-width="0.8" fill="none"/>
<rect x="81.55" y="4.74" width="515.70" height="415.72" fill="none" stroke="#6e6e6e" stroke-width="1.05"/>
<path d="M81.00,267.25H596.95" stroke="#000" stroke-width="3.2" fill="none"/>
<path d="M119,523.40H158" stroke="#5abfea" stroke-width="2.8" stroke-dasharray="9.8 4.7" fill="none"/>
<path d="M273,523.40H314.7" stroke="#f4ae81" stroke-width="2.8" stroke-dasharray="14.7 4.5 3 4.5" fill="none"/>
<path d="M446.6,523.40H488.2" stroke="#b73d55" stroke-width="2.8" stroke-dasharray="2.7 2.16" fill="none"/>
<g font-family="'Liberation Serif', serif" font-size="23.5" fill="#000">
<text x="81.3" y="449.4" text-anchor="middle">0.0</text>
<text x="210.2" y="449.4" text-anchor="middle">0.5</text>
<text x="339.1" y="449.4" text-anchor="middle">1.0</text>
<text x="468.1" y="449.4" text-anchor="middle">1.5</text>
<text x="597" y="449.4" text-anchor="middle">2.0</text>
<text x="76" y="57.9" text-anchor="end">1.0</text>
<text x="76" y="167.3" text-anchor="end">0.5</text>
<text x="76" y="276.7" text-anchor="end">0.0</text>
<text x="76" y="386.1" text-anchor="end">−0.5</text>
</g>
<text x="5" y="220.5" font-family="'Liberation Serif', serif" font-size="36" font-style="italic" fill="#000">f</text>
<text x="331.5" y="490.5" font-family="'Liberation Serif', serif" font-size="37" font-style="italic" fill="#000">r</text>
<g font-family="'Liberation Serif', 'DejaVu Serif', serif" font-size="23" fill="#000">
<text y="529.2"><tspan x="161.5">ℓ</tspan><tspan x="171.8">=</tspan><tspan x="187.3">0.2</tspan></text>
<text y="529.2"><tspan x="320.6">ℓ</tspan><tspan x="330.9">=</tspan><tspan x="347.3">8/27</tspan></text>
<text y="529.2"><tspan x="494">ℓ</tspan><tspan x="504.3">=</tspan><tspan x="520.4">0.4</tspan></text>
</g>
</svg>
</body></html>
